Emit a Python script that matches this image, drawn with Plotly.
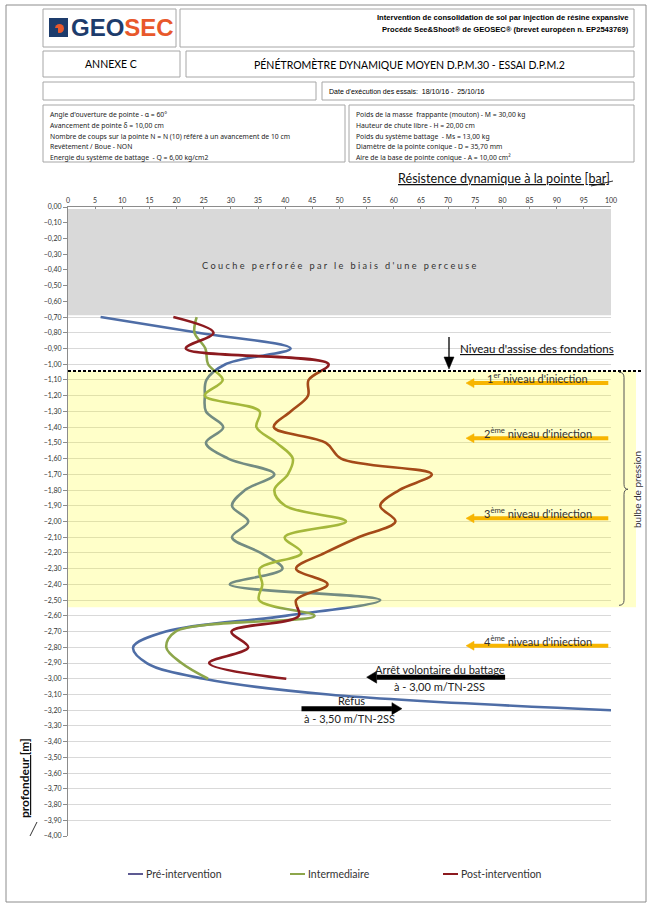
import plotly.graph_objects as go

# ---------------- data ----------------
depth_pre = [-0.70, -0.80, -0.90, -1.00, -1.10, -1.20, -1.30, -1.40, -1.50, -1.60,
             -1.70, -1.80, -1.90, -2.00, -2.10, -2.20, -2.30, -2.40, -2.50, -2.60,
             -2.70, -2.80, -2.90, -3.00, -3.10, -3.20]
pre = [6, 24, 41, 29, 25.5, 25.2, 25.4, 28.6, 25.4, 29.5,
       38, 32.6, 30.2, 33.2, 30.2, 35.5, 39.5, 29.8, 57.5, 40,
       18, 12, 14.5, 25, 48, 100]

depth_int = [-0.70, -0.80, -0.90, -1.00, -1.10, -1.20, -1.30, -1.40, -1.50, -1.60,
             -1.70, -1.80, -1.90, -2.00, -2.10, -2.20, -2.30, -2.40, -2.50, -2.60,
             -2.70, -2.80, -2.90, -3.00]
inter = [23.7, 23.3, 25.3, 25.8, 28.5, 25.2, 35.3, 34.7, 38.4, 41.4,
         40.5, 38, 40, 51.2, 39.9, 43, 35.3, 35.8, 35.2, 45.4,
         19.8, 18.1, 20.9, 25.8]

depth_post = depth_int
post = [19.4, 26.8, 21.7, 48, 44.3, 44.2, 41, 37.9, 47.5, 50.3,
        67, 61, 57.5, 60.3, 53.5, 47.3, 42, 47.8, 42, 42.5,
        30.1, 33.2, 26, 40.2]

series_names = ["Pré-intervention", "Intermediaire", "Post-intervention"]
series_colors = ["#4E6DA6", "#8DA64B", "#8C1A1F"]
legend_colors = ["#5D5A92", "#8DA64B", "#8C1A1F"]

x_ticks = list(range(0, 101, 5))

inj_levels = [-1.12, -1.47, -1.98, -2.79]
inj_labels = ["1<sup>er</sup> niveau d'iniection", "2<sup>ème</sup> niveau d'iniection",
              "3<sup>ème</sup> niveau d'iniection", "4<sup>ème</sup> niveau d'iniection"]

foundation_depth = -1.043
bulb_bottom = -2.545
grey_bottom = -0.688

# ---------------- geometry helpers ----------------
W, H = 653, 908
L, R, T, B = 68, 611, 207, 836
XS = (R - L) / 100.0       # px per bar
YS = (B - T) / 4.0         # px per metre


def px(x):
    return (x - L) / (R - L)


def py(y):
    return (B - y) / (B - T)


def dy(d):  # depth -> paper y
    return 1 + d / 4.0


fig = go.Figure()
for xs, ys, name, col in [(pre, depth_pre, series_names[0], series_colors[0]),
                          (inter, depth_int, series_names[1], series_colors[1]),
                          (post, depth_post, series_names[2], series_colors[2])]:
    fig.add_trace(go.Scatter(x=xs, y=ys, mode="lines", name=name,
                             line=dict(color=col, width=2.6, shape="spline", smoothing=1.0),
                             showlegend=False, hoverinfo="x+y"))

shapes = []
ann = []

CAL = "Lato, 'Open Sans', sans-serif"
SMALL = "'Noto Sans', 'Open Sans', sans-serif"
ARIAL = "'Liberation Sans', Arial, sans-serif"
BOXC = "#A6A6A6"


def box(x0, y0, x1, y1, color=BOXC, width=1):
    shapes.append(dict(type="rect", xref="paper", yref="paper",
                       x0=px(x0), x1=px(x1), y0=py(y0), y1=py(y1),
                       line=dict(color=color, width=width), fillcolor="rgba(0,0,0,0)",
                       layer="above"))


def text(x, y, s, size=8, color="#000", family=CAL, xanchor="center", yanchor="middle", angle=0):
    ann.append(dict(xref="paper", yref="paper", x=px(x), y=py(y), text=s, showarrow=False,
                    font=dict(size=size, color=color, family=family),
                    xanchor=xanchor, yanchor=yanchor, textangle=angle))


def h_arrow(x_tail, x_tip, y, color, width, head_len_px, head_half_px):
    """horizontal arrow in data coords (bar, depth)"""
    sgn = 1 if x_tip > x_tail else -1
    base = x_tip - sgn * head_len_px / XS
    shapes.append(dict(type="line", xref="x", yref="y", x0=x_tail, x1=base, y0=y, y1=y,
                       line=dict(color=color, width=width), layer="above"))
    hh = head_half_px / YS
    shapes.append(dict(type="path", xref="x", yref="y",
                       path=f"M {x_tip},{y} L {base},{y + hh} L {base},{y - hh} Z",
                       fillcolor=color, line=dict(color=color, width=0.5), layer="above"))


# outer frame
box(6, 5, 646, 902, color="#8C8C8C", width=1)
# header boxes
box(43, 9, 176, 47)
box(180, 9, 634, 47)
box(43, 51, 180, 77)
box(186, 51, 634, 77)
box(43, 82, 316, 100)
box(322, 82, 634, 100)
box(43, 105, 345, 162)
box(349, 105, 634, 162)

# logo
shapes.append(dict(type="path", xref="paper", yref="paper",
                   path="M {a},{b} L {c},{b} L {c},{d} L {a},{d} Z".format(
                       a=px(50), b=py(19), c=px(67), d=py(36)),
                   fillcolor="#1D3C6C", line=dict(color="#1D3C6C", width=2), layer="above"))
shapes.append(dict(type="circle", xref="paper", yref="paper",
                   x0=px(55), x1=px(64), y0=py(24), y1=py(33),
                   fillcolor="#E8582B", line=dict(width=0), layer="above"))
shapes.append(dict(type="rect", xref="paper", yref="paper",
                   x0=px(53), x1=px(58), y0=py(28), y1=py(33),
                   fillcolor="#1D3C6C", line=dict(width=0), layer="above"))
text(69, 28, "<b><span style='color:#1D3C6C'>GEO</span><span style='color:#E8582B'>SEC</span></b>",
     size=24, family=ARIAL, xanchor="left")

text(631, 18, "<b>Intervention de consolidation de sol par injection de résine expansive</b>",
     size=7.6, family=ARIAL, xanchor="right")
text(631, 29, "<b>Procédé See&amp;Shoot® de GEOSEC® (brevet européen n. EP2543769)</b>",
     size=7.6, family=ARIAL, xanchor="right")
text(111, 64, "ANNEXE C", size=10.5, family=CAL)
text(410, 64, "PÉNÉTROMÈTRE DYNAMIQUE MOYEN D.P.M.30 - ESSAI D.P.M.2", size=10.5, family=CAL)
text(327, 91, "Date d'exécution des essais:  <span style='font-size:7px'>18/10/16 -  25/10/16</span>",
     size=7, family=ARIAL, xanchor="left")

left_params = ["Angle d'ouverture de pointe - α = 60°",
               "Avancement de pointe δ = 10,00 cm",
               "Nombre de coups sur la pointe N = N (10) référé à un avancement de 10 cm",
               "Revêtement / Boue - NON",
               "Energie du système de battage  - Q = 6,00 kg/cm2"]
right_params = ["Poids de la masse  frappante (mouton) - M = 30,00 kg",
                "Hauteur de chute libre - H = 20,00 cm",
                "Poids du système battage  - Ms = 13,00 kg",
                "Diamètre de la pointe conique - D = 35,70 mm",
                "Aire de la base de pointe conique - A = 10,00 cm²"]
for i, s in enumerate(left_params):
    text(48, 114.5 + i * 10.8, s, size=6.8, family=SMALL, xanchor="left", color="#222")
for i, s in enumerate(right_params):
    text(354, 114.5 + i * 10.8, s, size=6.8, family=SMALL, xanchor="left", color="#222")

# axis title (top)
text(612, 178, "<u>Résistence dynamique à la pointe [bar]</u>", size=12.6, family=CAL,
     xanchor="right", color="#111")
shapes.append(dict(type="line", xref="paper", yref="paper", x0=px(591), y0=py(186),
                   x1=px(613), y1=py(181), line=dict(color="#333", width=1), layer="above"))

# y axis title
text(24, 778, "<b><u>profondeur [m]</u></b>", size=12, family=CAL, angle=-90, color="#111")
shapes.append(dict(type="line", xref="paper", yref="paper", x0=px(30), y0=py(836),
                   x1=px(37), y1=py(822), line=dict(color="#333", width=1), layer="above"))

# grey perforated layer
shapes.append(dict(type="rect", xref="paper", yref="paper", x0=0, x1=1,
                   y0=dy(grey_bottom), y1=dy(-0.012), fillcolor="#D9D9D9",
                   line=dict(width=0), layer="above"))
perc = "Couche perforée par le biais d'une perceuse"
spaced = "\u00a0\u00a0\u00a0".join("\u00a0".join(list(w)) for w in perc.split(" "))
ann.append(dict(xref="x", yref="y", x=50, y=-0.37, text=spaced, showarrow=False,
                font=dict(size=9.2, color="#333", family=CAL)))

# yellow pressure-bulb zone (translucent, above the curves)
shapes.append(dict(type="rect", xref="paper", yref="paper", x0=0, x1=px(636),
                   y0=dy(bulb_bottom), y1=dy(foundation_depth),
                   fillcolor="rgba(255,255,0,0.21)", line=dict(width=0), layer="above"))
# foundation dashed line
shapes.append(dict(type="line", xref="paper", yref="paper", x0=0, x1=px(641),
                   y0=dy(foundation_depth), y1=dy(foundation_depth),
                   line=dict(color="#000", width=2, dash="3px,2px"), layer="above"))

# bracket (bulbe de pression)
bx = px(624)
ytop, ybot, ymid = dy(foundation_depth) - 0.002, dy(bulb_bottom) + 0.003, dy(-1.795)
e = 0.008
shapes.append(dict(type="path", xref="paper", yref="paper",
                   path=(f"M {px(619)},{ytop} Q {bx},{ytop} {bx},{ytop-e} "
                         f"L {bx},{ymid+e} Q {bx},{ymid} {px(628)},{ymid} "
                         f"Q {bx},{ymid} {bx},{ymid-e} L {bx},{ybot+e} "
                         f"Q {bx},{ybot} {px(619)},{ybot}"),
                   line=dict(color="#555", width=1), layer="above"))
text(637, 490, "bulbe de pression", size=10, family=CAL, angle=-90, color="#333")

# Niveau d'assise
text(458, 348, "<u>Niveau d'assise des fondations</u>", size=11.5, family=CAL,
     xanchor="left", color="#111")
ax_bar = (449 - L) / XS
shapes.append(dict(type="line", xref="x", yref="y", x0=ax_bar, x1=ax_bar,
                   y0=-(337 - T) / YS, y1=-(358 - T) / YS,
                   line=dict(color="#000", width=1.3), layer="above"))
shapes.append(dict(type="path", xref="x", yref="y",
                   path=(f"M {ax_bar},{-(369 - T) / YS} L {ax_bar - 5 / XS},{-(357 - T) / YS} "
                         f"L {ax_bar + 5 / XS},{-(357 - T) / YS} Z"),
                   fillcolor="#000", line=dict(color="#000", width=0.5), layer="above"))

# injection levels
for lvl, lab in zip(inj_levels, inj_labels):
    h_arrow(99.5, 73.3, lvl, "#F7B500", 4, 8, 4.5)
    ann.append(dict(xref="x", yref="y", x=86.5, y=lvl + 0.035, text=lab, showarrow=False,
                    font=dict(size=11, color="#333", family=CAL), yanchor="middle"))

# stop / refusal arrows
h_arrow(80.5, 55.0, -2.99, "#000", 5, 10, 6)
ann.append(dict(xref="x", yref="y", x=68.5, y=-2.94, text="Arrêt volontaire du battage",
                showarrow=False, font=dict(size=11, color="#222", family=CAL)))
ann.append(dict(xref="x", yref="y", x=68.5, y=-3.05, text="à - 3,00 m/TN-2SS",
                showarrow=False, font=dict(size=11, color="#222", family=CAL)))
h_arrow(43.0, 61.5, -3.19, "#000", 5, 10, 6)
ann.append(dict(xref="x", yref="y", x=52.3, y=-3.14, text="Réfus",
                showarrow=False, font=dict(size=11, color="#222", family=CAL)))
ann.append(dict(xref="x", yref="y", x=51.8, y=-3.25, text="à - 3,50 m/TN-2SS",
                showarrow=False, font=dict(size=11, color="#222", family=CAL)))

# legend (drawn manually to match layout)
for xl, name, col in zip([128, 290, 443], series_names, legend_colors):
    shapes.append(dict(type="line", xref="paper", yref="paper", x0=px(xl), x1=px(xl + 15),
                       y0=py(874), y1=py(874), line=dict(color=col, width=2), layer="above"))
    text(xl + 16, 874, name, size=10.5, family=CAL, xanchor="left", color="#333")

fig.update_layout(
    width=W, height=H, autosize=False,
    margin=dict(l=L, r=W - R, t=T, b=H - B, pad=0),
    paper_bgcolor="white", plot_bgcolor="white",
    separators=", ",
    showlegend=False,
    shapes=shapes, annotations=ann,
    xaxis=dict(side="top", range=[0, 100], tickvals=x_ticks, showgrid=False, zeroline=False,
               showline=True, linecolor="#8C8C8C", linewidth=1, ticks="inside", ticklen=4,
               tickcolor="#8C8C8C", tickfont=dict(size=7, color="#333", family=CAL),
               fixedrange=True),
    yaxis=dict(range=[-4, 0], dtick=0.1, tick0=0, tickformat=".2f", showgrid=True,
               gridcolor="#D9D9D9", gridwidth=1, zeroline=False, showline=True,
               linecolor="#8C8C8C", linewidth=1, ticks="outside", ticklen=4, tickcolor="#8C8C8C",
               tickfont=dict(size=7, color="#333", family=CAL), fixedrange=True),
)

fig.write_html("out.html")
